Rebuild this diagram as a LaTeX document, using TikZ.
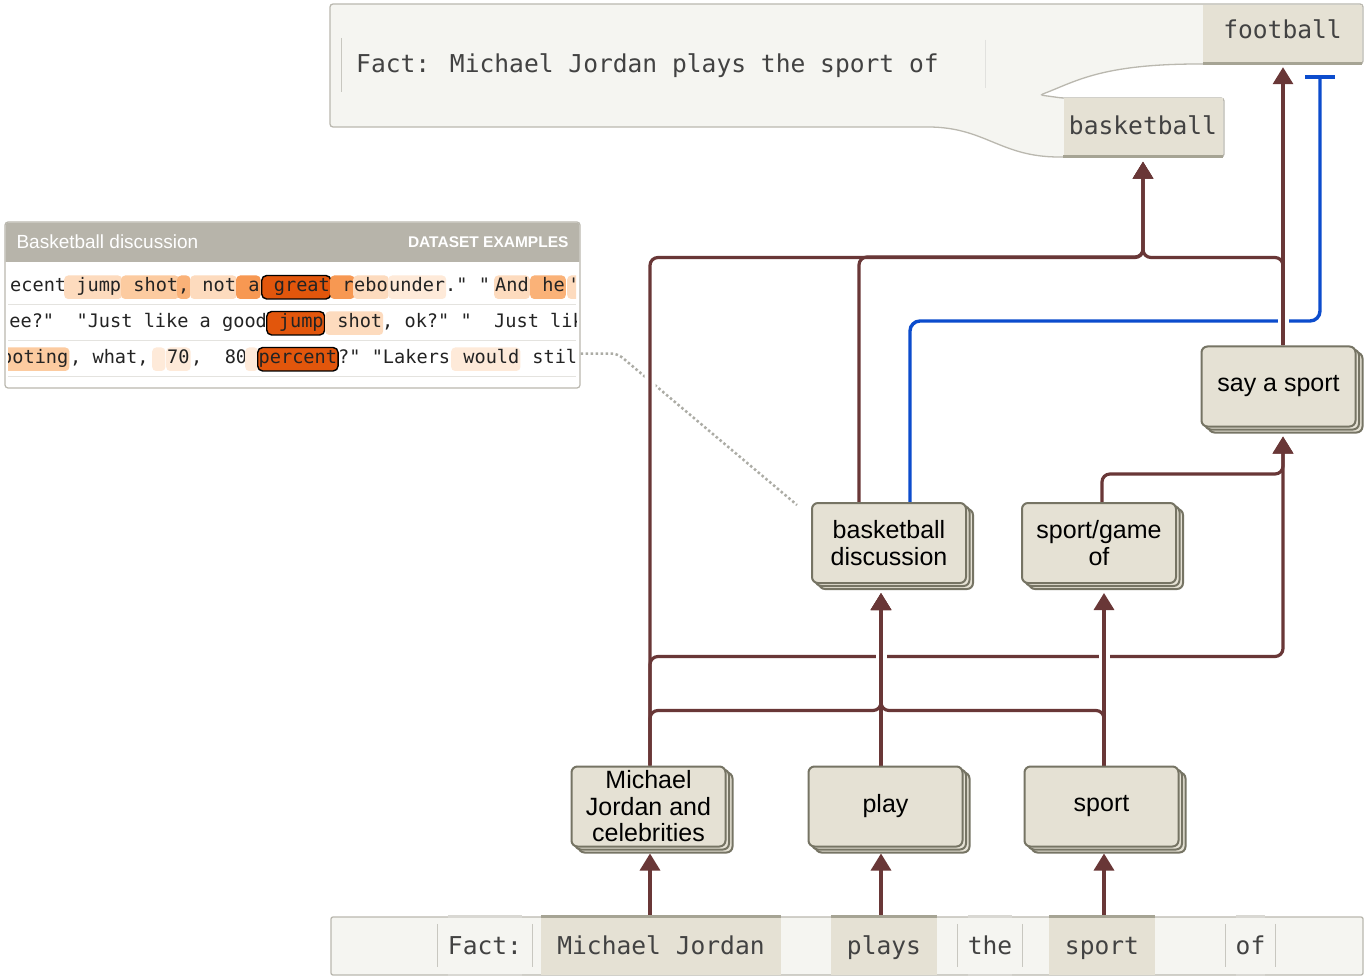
\documentclass[tikz,border=0pt]{standalone}
\usepackage{fontspec}
\setmainfont{Liberation Sans}
\newfontfamily\codefont{DejaVu Sans Mono}[Ligatures=TeXOff]
\usetikzlibrary{arrows.meta,shadows,backgrounds}

\definecolor{linkbrown}{RGB}{105,55,55}
\definecolor{inhibblue}{RGB}{12,76,205}
\definecolor{cardfill}{RGB}{229,225,212}
\definecolor{cardline}{RGB}{118,116,100}
\definecolor{panelfill}{RGB}{245,245,241}
\definecolor{panelline}{RGB}{186,184,175}
\definecolor{tabline}{RGB}{166,164,148}
\definecolor{dshead}{RGB}{183,180,170}
\definecolor{hintgray}{RGB}{172,172,165}
\definecolor{sepgray}{RGB}{200,199,192}
\definecolor{factgray}{RGB}{66,66,66}
\definecolor{rowtext}{RGB}{35,35,35}
\definecolor{hA}{RGB}{254,234,217}
\definecolor{hB}{RGB}{253,219,190}
\definecolor{hC}{RGB}{252,203,160}
\definecolor{hD}{RGB}{250,178,120}
\definecolor{hE}{RGB}{247,152,82}
\definecolor{hF}{RGB}{226,86,12}

\newcommand\cardfont{\fontsize{25}{26.5}\selectfont}
\newcommand\factfont{\codefont\fontsize{24.6}{26}\selectfont}
\newcommand\rowfont{\codefont\fontsize{18.6}{20}\selectfont}

\begin{document}
\begin{tikzpicture}[x=1pt,y=-1pt,
  card/.style={draw=cardline, fill=cardfill, line width=2pt, rounded corners=6pt,
    minimum width=154pt, minimum height=80pt, align=center, font=\cardfont,
    double copy shadow={shadow xshift=3.5pt, shadow yshift=-3pt}},
  link/.style={draw=linkbrown, line width=3.2pt, rounded corners=8pt, shorten >=9pt,
    -{Triangle[width=20pt,length=17pt]}},
  gapped/.style={preaction={draw=white, line width=11pt, -}},
  inhibit/.style={draw=inhibblue, line width=3.4pt, rounded corners=10pt,
    -{Bar[width=30pt,line width=3.4pt]}},
  hint/.style={draw=hintgray, line width=2.5pt, dash pattern=on 2.5pt off 2.5pt, rounded corners=6pt},
  tab/.style={fill=cardfill, minimum width=159pt, minimum height=58pt, font=\factfont,
    text height=18pt, text=factgray},
  tabedge/.style={draw=tabline, line width=3pt},
  bartok/.style={minimum height=58pt, inner xsep=0pt, font=\factfont,
    text height=22pt, text depth=5pt, text=factgray},
  sepline/.style={draw=sepgray, line width=1pt},
  rowline/.style={draw=sepgray!50, line width=1pt},
  tk/.style={anchor=base west, inner xsep=1pt, inner ysep=2.5pt, text height=14pt,
    text depth=4.5pt, font=\rowfont, text=rowtext, rounded corners=4pt},
  hot/.style={tk, fill=hF, draw=black, line width=1.4pt, rounded corners=5pt},
]
\useasboundingbox (0,0) rectangle (1369,976);

% prompt with the two completions
\draw[draw=panelline, fill=panelfill, line width=1.3pt, rounded corners=3pt]
  (330,127) -- (330,4) -- (1363,4) -- (1363,64) -- (1202,64)
  .. controls (1100,64) and (1075,82) .. (1040,95) -- (1062,98) -- (1224,98)
  -- (1224,157) -- (1062,157) .. controls (1000,157) and (985,127) .. (925,127) -- cycle;
\draw[sepline] (341,38) -- (341,92);
\draw[draw=panelfill!92!black, line width=1pt] (985,40) -- (985,88);
\node[anchor=base west, inner sep=0pt, font=\factfont, text=factgray] (prompt) at (356,73)
  {Fact: Michael Jordan plays the sport of};
\node[tab, text depth=8pt] (fb) at (1282.5,34) {football};
\draw[tabedge] (fb.south west) -- (fb.south east);
\node[tab, text depth=3pt] (bb) at (1143,127.5) {basketball};
\draw[tabedge] (bb.south west) -- (bb.south east);

% dataset examples
\node[draw=panelline, fill=white, line width=1.2pt, rounded corners=3pt,
  minimum width=575pt, minimum height=166pt] (ds) at (292.5,305) {};
\fill[dshead] (5.6,262) [rounded corners=2.5pt] -- (5.6,222.6) -- (579.4,222.6)
  [sharp corners] -- (579.4,262) -- cycle;
\node[anchor=west, text=white, font=\fontsize{19}{22}\selectfont] (dstitle) at (13,242)
  {Basketball discussion};
\node[anchor=east, text=white, font=\bfseries\fontsize{15.5}{18}\selectfont] (dstag) at (572,242)
  {DATASET EXAMPLES};
\foreach \y in {305,341,377} \draw[rowline] (8,\y) -- (576,\y);
\begin{scope}
  \clip (8,264) rectangle (576,386);
  % row 1
  \node[tk] (a1) at (9,292) {ecent};
  \node[tk, fill=hB] (a2) at (64,292) {~jump};
  \node[tk, fill=hC] (a3) at (121,292) {~shot};
  \node[tk, fill=hD] (a4) at (177,292) {,};
  \node[tk, fill=hB] (a5) at (190,292) {~not};
  \node[tk, fill=hE] (a6) at (236,292) {~a};
  \node[hot] (a7) at (261,292) {~great};
  \node[tk, fill=hE] (a8) at (330,292) {~r};
  \node[tk, fill=hB] (a9) at (353,292) {ebo};
  \node[tk, fill=hA] (a10) at (388,292) {under};
  \node[tk] (a11) at (444,292) {."~"};
  \node[tk, fill=hB] (a12) at (494,292) {And};
  \node[tk, fill=hD] (a13) at (530,292) {~he};
  \node[tk, fill=hB] (a14) at (567,292) {'};
  % row 2
  \node[tk] (b1) at (-3,328) {see?"~~"Just~like~a~good};
  \node[hot] (b2) at (266,328) {~jump};
  \node[tk, fill=hB] (b3) at (325,328) {~shot};
  \node[tk] (b4) at (381,328) {,~ok?"~"~~Just~like};
  % row 3
  \node[tk, fill=hC] (c1) at (0,364) {ooting};
  \node[tk] (c2) at (69,364) {,~what,};
  \node[tk, fill=hA] (c3) at (152,364) {\hphantom{0}};
  \node[tk, fill=hA] (c4) at (166,364) {70};
  \node[tk] (c5) at (190,364) {,~~80};
  \node[tk, fill=hA] (c6) at (245,364) {\hphantom{0}};
  \node[hot] (c7) at (257,364) {percent};
  \node[tk] (c8) at (337,364) {?"~"Lakers};
  \node[tk, fill=hA] (c9) at (451,364) {~would};
  \node[tk] (c10) at (520,364) {~stil};
\end{scope}

% features
\node[card] (mj) at (648.5,806.5) {Michael\\Jordan and\\celebrities};
\node[card] (play) at (885.5,806.5) {play};
\node[card] (sport) at (1101.5,806.5) {sport};
\node[card] (bd) at (889,543) {basketball\\discussion};
\node[card] (sg) at (1099,543) {sport/game\\of};
\node[card] (say) at (1278.5,386.5) {say a sport};

% input tokens
\draw[draw=panelline, fill=panelfill, line width=1.3pt, rounded corners=2pt] (331,917) rectangle (1363,975);
\node[bartok, minimum width=94pt] (t1) at (485,946) {Fact:};
\node[bartok, minimum width=240pt, fill=cardfill] (t2) at (661,946) {Michael Jordan};
\node[bartok, minimum width=106pt, fill=cardfill] (t3) at (884,946) {plays};
\node[bartok, minimum width=64pt] (t4) at (990,946) {the};
\node[bartok, minimum width=106pt, fill=cardfill] (t5) at (1102,946) {sport};
\node[bartok, minimum width=49pt] (t6) at (1250.5,946) {of};
\foreach \w in {t1,t4,t6} {
  \draw[sepline] ([yshift=-7pt]\w.north west) -- ([yshift=8pt]\w.south west)
    ([yshift=-7pt]\w.north east) -- ([yshift=8pt]\w.south east);
  \draw[draw=sepgray!70, line width=3pt] ([xshift=10pt]\w.north west) -- ([xshift=-10pt]\w.north east)
    ([xshift=10pt]\w.south west) -- ([xshift=-10pt]\w.south east);
}
\foreach \w in {t2,t3,t5} \draw[tabedge] (\w.north west) -- (\w.north east);

% connections
\begin{scope}[on background layer]
  \fill[white] (0,0) rectangle (1369,976);
  \draw[hint] ([yshift=35pt]ds.south east) -- ++(37,0) -- ([xshift=-14pt,yshift=-3pt]bd.north west);
  \draw[inhibit] ([xshift=21pt]bd.north) -- ++(0,-181) -| ([xshift=37.5pt,yshift=-12pt]fb.south);
  \draw[link, gapped, shorten >=4pt] ([xshift=4.5pt]say.north) -- ([xshift=0.5pt]fb.south);
  \draw[link, gapped, shorten >=5pt] ([xshift=1.5pt]mj.north) -- ++(0,-508) -| (bb.south);
  \draw[link, shorten >=5pt] ([xshift=-30pt]bd.north) -- ++(0,-245) -| (bb.south);
  \draw[link, shorten >=5pt] ([xshift=4.5pt]say.north) -- ++(0,-88) -| (bb.south);
  \draw[link] ([xshift=1.5pt]mj.north) -- ++(0,-109) -| ([xshift=4.5pt]say.south);
  \draw[link, gapped] ([xshift=-4.5pt]play.north) -- ([xshift=-8pt]bd.south);
  \draw[link, gapped] ([xshift=2.5pt]sport.north) -- ([xshift=5pt]sg.south);
  \draw[link] ([xshift=1.5pt]mj.north) -- ++(0,-55) -| ([xshift=-8pt]bd.south);
  \draw[link] ([xshift=2.5pt]sport.north) -- ++(0,-55) -| ([xshift=-8pt]bd.south);
  \draw[link] ([xshift=3pt]sg.north) -- ++(0,-28) -| ([xshift=4.5pt]say.south);
  \draw[link, shorten >=6pt] ([xshift=-11pt]t2.north) -- ([xshift=1.5pt]mj.south);
  \draw[link, shorten >=6pt] ([xshift=-3pt]t3.north) -- ([xshift=-4.5pt]play.south);
  \draw[link, shorten >=6pt] ([xshift=2pt]t5.north) -- ([xshift=2.5pt]sport.south);
\end{scope}
\end{tikzpicture}
\end{document}
